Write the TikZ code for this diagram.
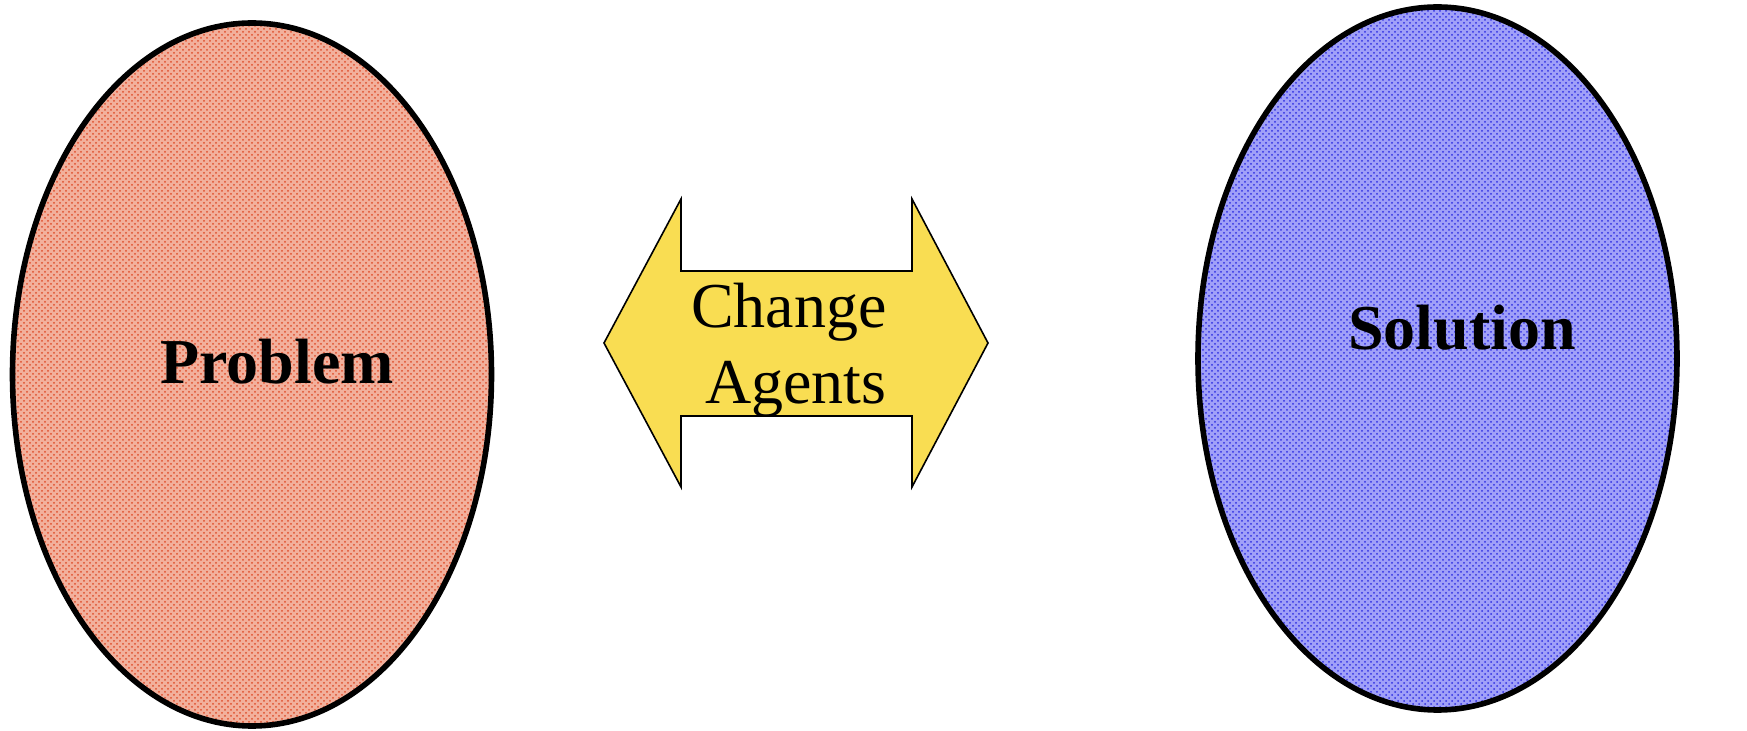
\documentclass[tikz,border=0pt]{standalone}
\usepackage{fontspec}
\setmainfont{Liberation Serif}
\usepackage{tikz}
\usetikzlibrary{shapes.geometric,patterns}

\definecolor{probfill}{RGB}{242,176,156}
\definecolor{probdots}{RGB}{222,78,44}
\definecolor{solfill}{RGB}{160,160,248}
\definecolor{soldots}{RGB}{48,48,226}
\definecolor{agentfill}{RGB}{249,221,82}

\tikzset{
  blob/.style={ellipse, draw=black, line width=2.8pt, inner sep=0pt,
    minimum width=239.5pt, minimum height=351.5pt},
  word/.style={font=\fontsize{32}{38}\selectfont, inner sep=0pt, anchor=base}
}

\begin{document}
\begin{tikzpicture}[x=0.5pt,y=-0.5pt]
\useasboundingbox (0,0) rectangle (1747,731);

\node[blob, preaction={fill=probfill}, preaction={pattern=crosshatch dots, pattern color=probdots}] (prob) at (252,374.5) {};
\node[blob, preaction={fill=solfill}, preaction={pattern=crosshatch dots, pattern color=soldots}] (sol) at (1437.5,358.5) {};

\node[word, font=\fontsize{32}{38}\selectfont\bfseries] (problem) at (277,384) {Problem};
\node[word, font=\fontsize{32}{38}\selectfont\bfseries] (solution) at (1462,350) {Solution};

% double arrow between the two
\draw[fill=agentfill, line width=0.8pt, line join=miter]
  (604,343) -- (681,199) -- (681,271) -- (912,271) -- (912,199) -- (988,343)
  -- (912,487) -- (912,416) -- (681,416) -- (681,487) -- cycle;

\node[word] (change) at (789,328) {Change};
\node[word] (agents) at (796,404) {Agents};

\end{tikzpicture}
\end{document}
